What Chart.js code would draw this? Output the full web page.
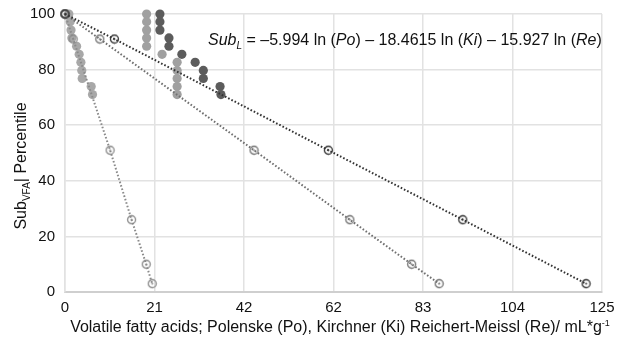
<!DOCTYPE html>
<html>
<head>
<meta charset="utf-8">
<script src="https://cdn.jsdelivr.net/npm/chart.js@4.4.0/dist/chart.umd.min.js"></script>
<style>
  html, body { margin: 0; padding: 0; background: #fff; }
  #wrap { width: 617px; height: 342px; }
</style>
</head>
<body>
<div id="wrap"><canvas id="c" width="617" height="342"></canvas></div>
<script>
// Percentile curves for the three volatile fatty acid indices
const X_MAX = 125;
const X_TICK_LABELS = ['0', '21', '42', '62', '83', '104', '125'];
const Y_TICKS_STEP = 20;

// dotted regression lines (open markers)
const PO_LINE_X = [0, 1.9, 10.5, 15.5, 18.9, 20.3];
const PO_LINE_Y = [100, 91, 51, 26, 10, 3];
const KI_LINE_X = [0, 8.1, 44.0, 66.3, 80.7, 87.1];
const KI_LINE_Y = [100, 91, 51, 26, 10, 3];
const RE_LINE_X = [0, 11.5, 61.3, 92.6, 121.3];
const RE_LINE_Y = [100, 91, 51, 26, 3];

// observed samples (filled dots)
const DOT_Y = [100, 97.2, 94.2, 91.4, 88.4, 85.5, 82.6, 79.7, 76.8, 73.9, 71.0];
const PO_DOTS_X = [0.9, 1.2, 1.4, 1.6, 2.7, 3.3, 3.7, 3.9, 4.0, 6.1, 6.4];
const KI_DOTS_X = [19.0, 19.0, 19.0, 19.0, 19.0, 22.6, 26.1, 26.1, 26.1, 26.1, 26.1];
const RE_DOTS_X = [22.1, 22.1, 22.1, 24.2, 24.2, 27.2, 30.3, 32.2, 32.2, 36.1, 36.3];

const FONT = '"Liberation Sans", Arial, Helvetica, sans-serif';
const GRID = '#e2e2e2';
const TXT = '#111';

const pts = (xs, ys) => xs.map((x, i) => ({ x, y: ys[i] }));

// hollow circle with a centre dot
function ringMarker(color) {
  const c = document.createElement('canvas');
  c.width = 11; c.height = 11;
  const g = c.getContext('2d');
  g.strokeStyle = color; g.lineWidth = 1.3;
  g.beginPath(); g.arc(5.5, 5.5, 4, 0, Math.PI * 2); g.stroke();
  g.fillStyle = color;
  g.beginPath(); g.arc(5.5, 5.5, 1, 0, Math.PI * 2); g.fill();
  return c;
}

function lineSet(xs, ys, color) {
  return {
    data: pts(xs, ys), showLine: true, borderColor: color, borderWidth: 2,
    borderDash: [1.6, 2], pointStyle: ringMarker(color), pointRadius: 5,
    clip: false, order: 0,
  };
}
function dotSet(xs, color) {
  return {
    data: pts(xs, DOT_Y), showLine: false, backgroundColor: color, borderWidth: 0,
    pointRadius: 4.6, pointStyle: 'circle', clip: false, order: 1,
  };
}

// draws text runs: [text, fontSize, italic, dy]
function runs(ctx, parts, x, y) {
  let cx = x;
  parts.forEach(([t, size, it, dy]) => {
    ctx.font = `${it ? 'italic ' : ''}${size}px ${FONT}`;
    ctx.fillText(t, cx, y + (dy || 0));
    cx += ctx.measureText(t).width;
  });
}
function runsWidth(ctx, parts) {
  return parts.reduce((w, [t, size, it]) => {
    ctx.font = `${it ? 'italic ' : ''}${size}px ${FONT}`;
    return w + ctx.measureText(t).width;
  }, 0);
}

const labels = {
  id: 'labels',
  afterDraw(chart) {
    const ctx = chart.ctx;
    ctx.save();
    ctx.fillStyle = TXT;
    ctx.textBaseline = 'alphabetic';
    ctx.textAlign = 'left';

    // equation
    const eq = [['Sub', 16, true], ['L', 10, true, 4], [' = \u20135.994 ln ', 16], ['(', 16], ['Po', 16, true],
      [') \u2013 18.4615 ln (', 16], ['Ki', 16, true], [') \u2013 15.927 ln (', 16], ['Re', 16, true], [')', 16]];
    runs(ctx, eq, 208, 45);

    // x title
    const xt = [['Volatile fatty acids; Polenske (Po), Kirchner (Ki) Reichert-Meissl (Re)/ mL*g', 16], ['-1', 9, false, -6]];
    const xw = runsWidth(ctx, xt);
    runs(ctx, xt, 340 - xw / 2, 332);

    // y title
    const yt = [['Sub', 16], ['VFA', 10, false, 4], ['| Percentile', 16]];
    const yw = runsWidth(ctx, yt);
    ctx.translate(26, 166);
    ctx.rotate(-Math.PI / 2);
    runs(ctx, yt, -yw / 2, 0);
    ctx.restore();
  },
};

new Chart(document.getElementById('c'), {
  type: 'scatter',
  data: {
    datasets: [
      lineSet(RE_LINE_X, RE_LINE_Y, '#333333'),
      lineSet(KI_LINE_X, KI_LINE_Y, '#707070'),
      lineSet(PO_LINE_X, PO_LINE_Y, '#8a8a8a'),
      dotSet(RE_DOTS_X, '#5c5c5c'),
      dotSet(KI_DOTS_X, '#a0a0a0'),
      dotSet(PO_DOTS_X, '#a8a8a8'),
    ],
  },
  options: {
    responsive: false,
    animation: false,
    layout: { padding: { top: 14, right: 15, left: 0, bottom: 0 } },
    plugins: { legend: { display: false }, tooltip: { enabled: false } },
    scales: {
      x: {
        type: 'linear', min: 0, max: X_MAX,
        afterFit: (s) => { s.height = 50; s.paddingLeft = 0; s.paddingRight = 0; },
        afterBuildTicks: (s) => { s.ticks = X_TICK_LABELS.map((_, i) => ({ value: i * X_MAX / (X_TICK_LABELS.length - 1) })); },
        ticks: { color: TXT, font: { family: FONT, size: 15 }, padding: 7, maxRotation: 0,
          callback: (v, i) => X_TICK_LABELS[i] },
        grid: { color: GRID, lineWidth: 1.5, drawTicks: false },
        border: { color: '#cfcfcf', width: 2 },
      },
      y: {
        min: 0, max: 100,
        afterFit: (s) => { s.width = 65; s.paddingTop = 0; s.paddingBottom = 0; },
        ticks: { stepSize: Y_TICKS_STEP, color: TXT, font: { family: FONT, size: 15 }, padding: 10 },
        grid: { color: GRID, lineWidth: 1.5, drawTicks: false },
        border: { color: GRID, width: 1.5 },
      },
    },
  },
  plugins: [labels],
});
</script>
</body>
</html>
